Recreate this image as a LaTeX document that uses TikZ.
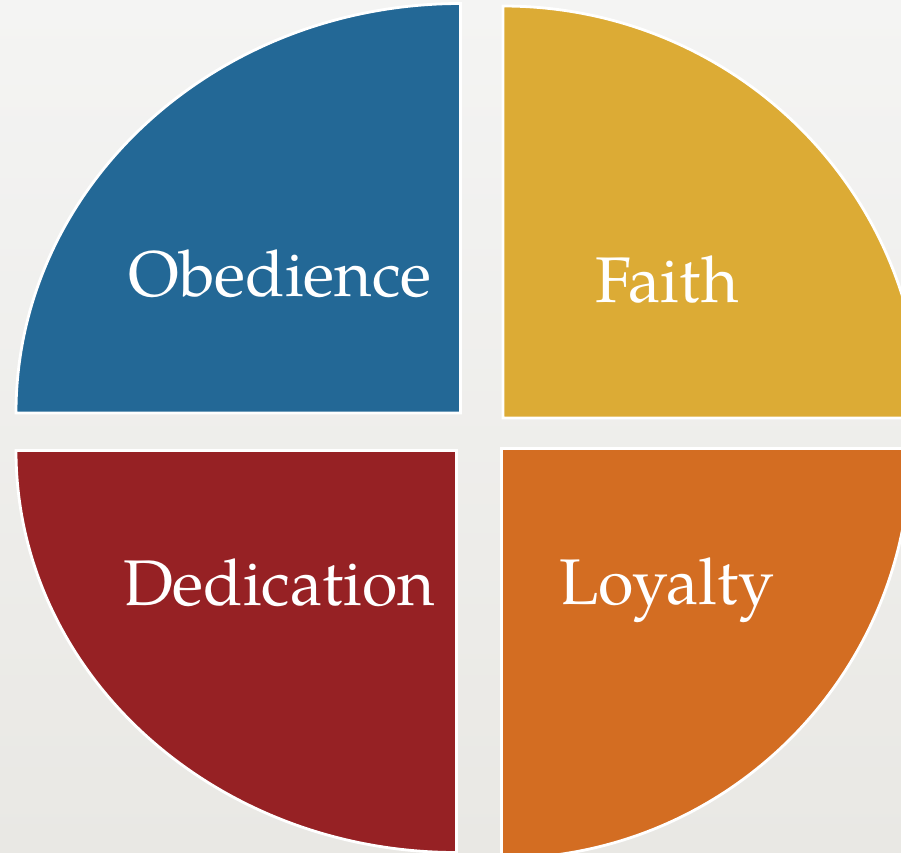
\documentclass[tikz,border=0pt]{standalone}
\usepackage{fontspec}
\setmainfont{TeX Gyre Pagella}
\definecolor{bgtop}{HTML}{F4F4F3}
\definecolor{bgbot}{HTML}{E9E8E4}
\definecolor{qblue}{HTML}{236896}
\definecolor{qgold}{HTML}{DCAB35}
\definecolor{qred}{HTML}{962124}
\definecolor{qorange}{HTML}{D36D22}
\tikzset{
  sector/.style={draw=white, line width=2.8pt, line join=miter},
  lbl/.style={text=white, anchor=base, inner sep=0pt, font=\fontsize{64.5}{72}\selectfont}
}
\begin{document}
\begin{tikzpicture}[x=1pt,y=-1pt]
\useasboundingbox (0,0) rectangle (901,852);
\shade[top color=bgtop, bottom color=bgbot] (0,0) rectangle (901,852);
% blue (top-left)
\coordinate (cb) at (460.5,413);
\path[sector, fill=qblue] (cb) -- ++(-444.5,0) arc[start angle=180, end angle=270, x radius=444.5, y radius=409.5] -- cycle;
% gold (top-right)
\coordinate (cg) at (503,418);
\path[sector, fill=qgold] (cg) -- ++(0,-412) arc[start angle=270, end angle=360, x radius=418, y radius=412] -- cycle;
% orange (bottom-right)
\coordinate (co) at (501.5,448.5);
\path[sector, fill=qorange] (co) -- ++(409,0) arc[start angle=0, end angle=90, x radius=409, y radius=410] -- cycle;
% red (bottom-left)
\coordinate (cr) at (456.5,450.5);
\path[sector, fill=qred] (cr) -- ++(0,402) arc[start angle=90, end angle=180, x radius=440.5, y radius=402] -- cycle;
% labels
\node[lbl] (obed) at (280,296) {Obedience};
\node[lbl] (faith) at (667,302) {Faith};
\node[lbl] (dedi) at (279,605) {Dedication};
\node[lbl] (loyal) at (667,604) {Loyalty};
\end{tikzpicture}
\end{document}
